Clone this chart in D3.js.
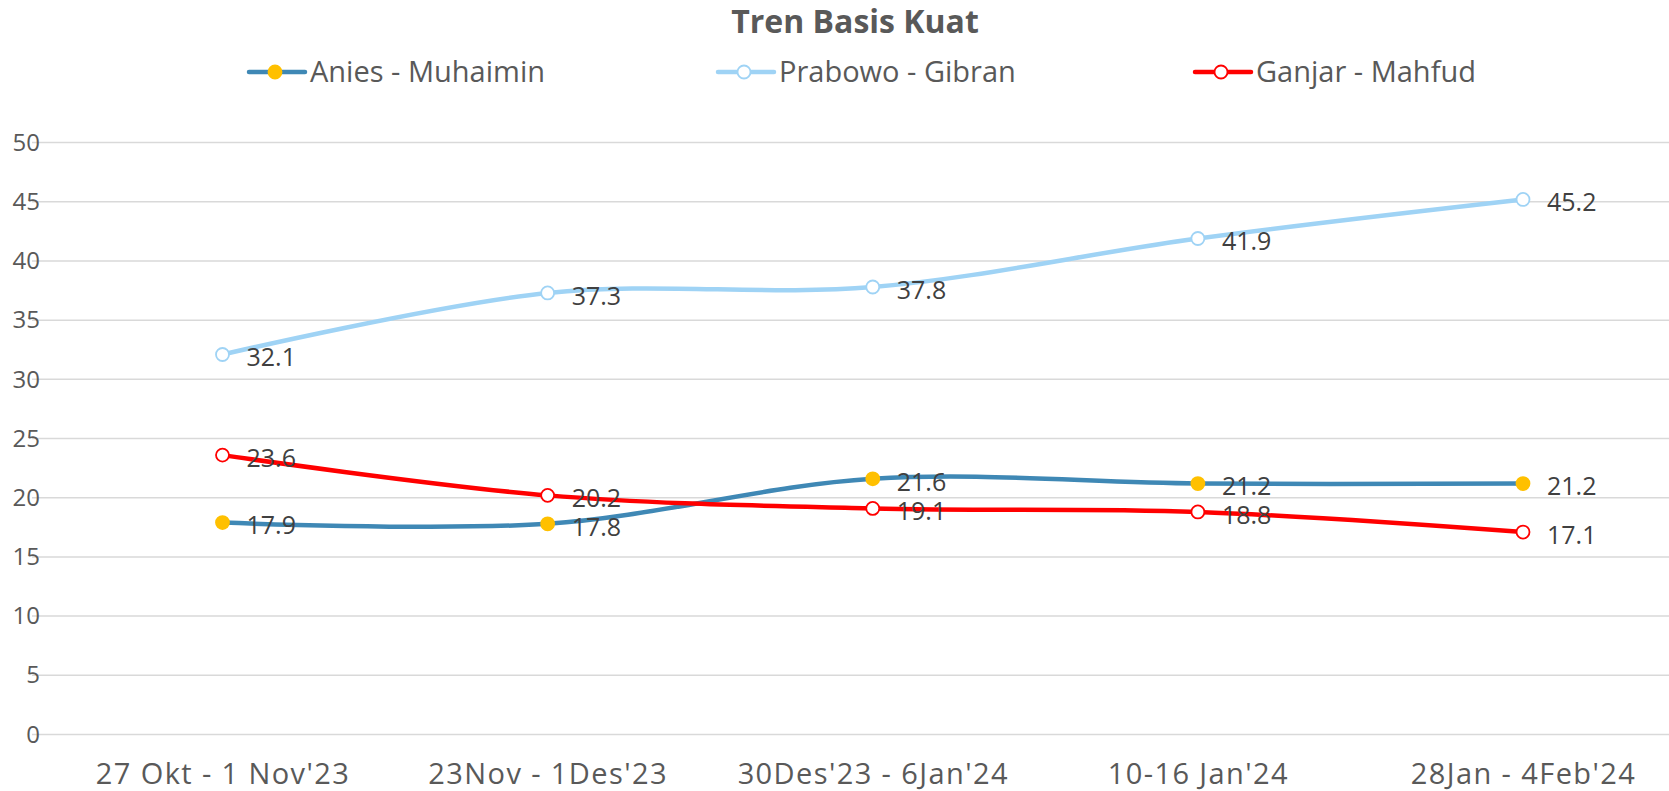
<!DOCTYPE html>
<html>
<head>
<meta charset="utf-8">
<script src="https://cdn.jsdelivr.net/npm/d3@7"></script>
<style>
  body { margin: 0; background: #fff; }
  svg { display: block; font-family: "Open Sans", sans-serif; }
</style>
</head>
<body>
<div class="container"></div>
<script>
var WIDTH = 1669, HEIGHT = 791;

var categories = ["27 Okt - 1 Nov'23", "23Nov - 1Des'23", "30Des'23 - 6Jan'24", "10-16 Jan'24", "28Jan - 4Feb'24"];
var seriesNames = ["Anies - Muhaimin", "Prabowo - Gibran", "Ganjar - Mahfud"];
var aniesValues = [17.9, 17.8, 21.6, 21.2, 21.2];
var prabowoValues = [32.1, 37.3, 37.8, 41.9, 45.2];
var ganjarValues = [23.6, 20.2, 19.1, 18.8, 17.1];
var yTicks = [0, 5, 10, 15, 20, 25, 30, 35, 40, 45, 50];

var series = [
    { name: seriesNames[0], values: aniesValues, line: "#3f88b5", fill: "#ffc000", stroke: "#ffc000" },
    { name: seriesNames[1], values: prabowoValues, line: "#9fd3f5", fill: "#ffffff", stroke: "#9fd3f5" },
    { name: seriesNames[2], values: ganjarValues, line: "#ff0000", fill: "#ffffff", stroke: "#ff0000" }
];

var svg = d3.select(".container")
    .append("svg")
    .attr("width", WIDTH)
    .attr("height", HEIGHT);

var x = d3.scalePoint()
    .domain(categories)
    .range([222.5, 1523]);

var y = d3.scaleLinear()
    .domain([0, 50])
    .range([734.5, 142.6]);

// gridlines
svg.append("g")
    .selectAll("line")
    .data(yTicks)
    .enter()
    .append("line")
    .attr("x1", 32)
    .attr("x2", WIDTH)
    .attr("y1", d => y(d))
    .attr("y2", d => y(d))
    .attr("stroke", "#d9d9d9")
    .attr("stroke-width", 1.5);

// y axis labels
var yAxis = svg.append("g")
    .attr("transform", "translate(40,0)")
    .call(d3.axisLeft(y).tickValues(yTicks).tickSize(0).tickPadding(0));
yAxis.select(".domain").remove();
yAxis.selectAll("text")
    .attr("fill", "#595959")
    .style("font-size", "24px")
    .style("font-family", "Open Sans, sans-serif");

// x axis labels
var xAxis = svg.append("g")
    .attr("transform", "translate(0,774)")
    .call(d3.axisBottom(x).tickSize(0).tickPadding(0));
xAxis.select(".domain").remove();
xAxis.selectAll("text")
    .attr("fill", "#595959")
    .attr("dy", "0.35em")
    .style("font-size", "29px")
    .style("letter-spacing", "1.4px")
    .style("font-family", "Open Sans, sans-serif");

var line = d3.line()
    .x((d, i) => x(categories[i]))
    .y(d => y(d))
    .curve(d3.curveCardinal.tension(0));

series.forEach(function (s) {
    var g = svg.append("g");

    g.append("path")
        .datum(s.values)
        .attr("d", line)
        .attr("fill", "none")
        .attr("stroke", s.line)
        .attr("stroke-width", 4.5)
        .attr("stroke-linecap", "round");

    g.selectAll("circle")
        .data(s.values)
        .enter()
        .append("circle")
        .attr("cx", (d, i) => x(categories[i]))
        .attr("cy", d => y(d))
        .attr("r", 6.5)
        .attr("fill", s.fill)
        .attr("stroke", s.stroke)
        .attr("stroke-width", 1.8);
});

// data labels drawn on top
series.forEach(function (s) {
    svg.append("g")
        .selectAll("text")
        .data(s.values)
        .enter()
        .append("text")
        .attr("x", (d, i) => x(categories[i]) + 24)
        .attr("y", d => y(d) + 3)
        .attr("dy", "0.35em")
        .attr("fill", "#404040")
        .style("font-size", "25px")
        .text(d => d.toFixed(1));
});

// title
svg.append("text")
    .attr("x", 855)
    .attr("y", 22)
    .attr("dy", "0.35em")
    .attr("text-anchor", "middle")
    .attr("fill", "#595959")
    .style("font-size", "32px")
    .style("font-weight", "bold")
    .text("Tren Basis Kuat");

// legend
var legendX = [249, 718, 1195];
var legend = svg.append("g")
    .selectAll("g")
    .data(series)
    .enter()
    .append("g")
    .attr("transform", (d, i) => `translate(${legendX[i]}, 72)`);

legend.append("line")
    .attr("x1", 0)
    .attr("x2", 56)
    .attr("stroke", d => d.line)
    .attr("stroke-width", 4.5)
    .attr("stroke-linecap", "round");

legend.append("circle")
    .attr("cx", 26)
    .attr("r", 6.5)
    .attr("fill", d => d.fill)
    .attr("stroke", d => d.stroke)
    .attr("stroke-width", 1.8);

legend.append("text")
    .attr("x", 61)
    .attr("dy", "0.35em")
    .attr("fill", "#595959")
    .style("font-size", "29px")
    .text(d => d.name);
</script>
</body>
</html>
